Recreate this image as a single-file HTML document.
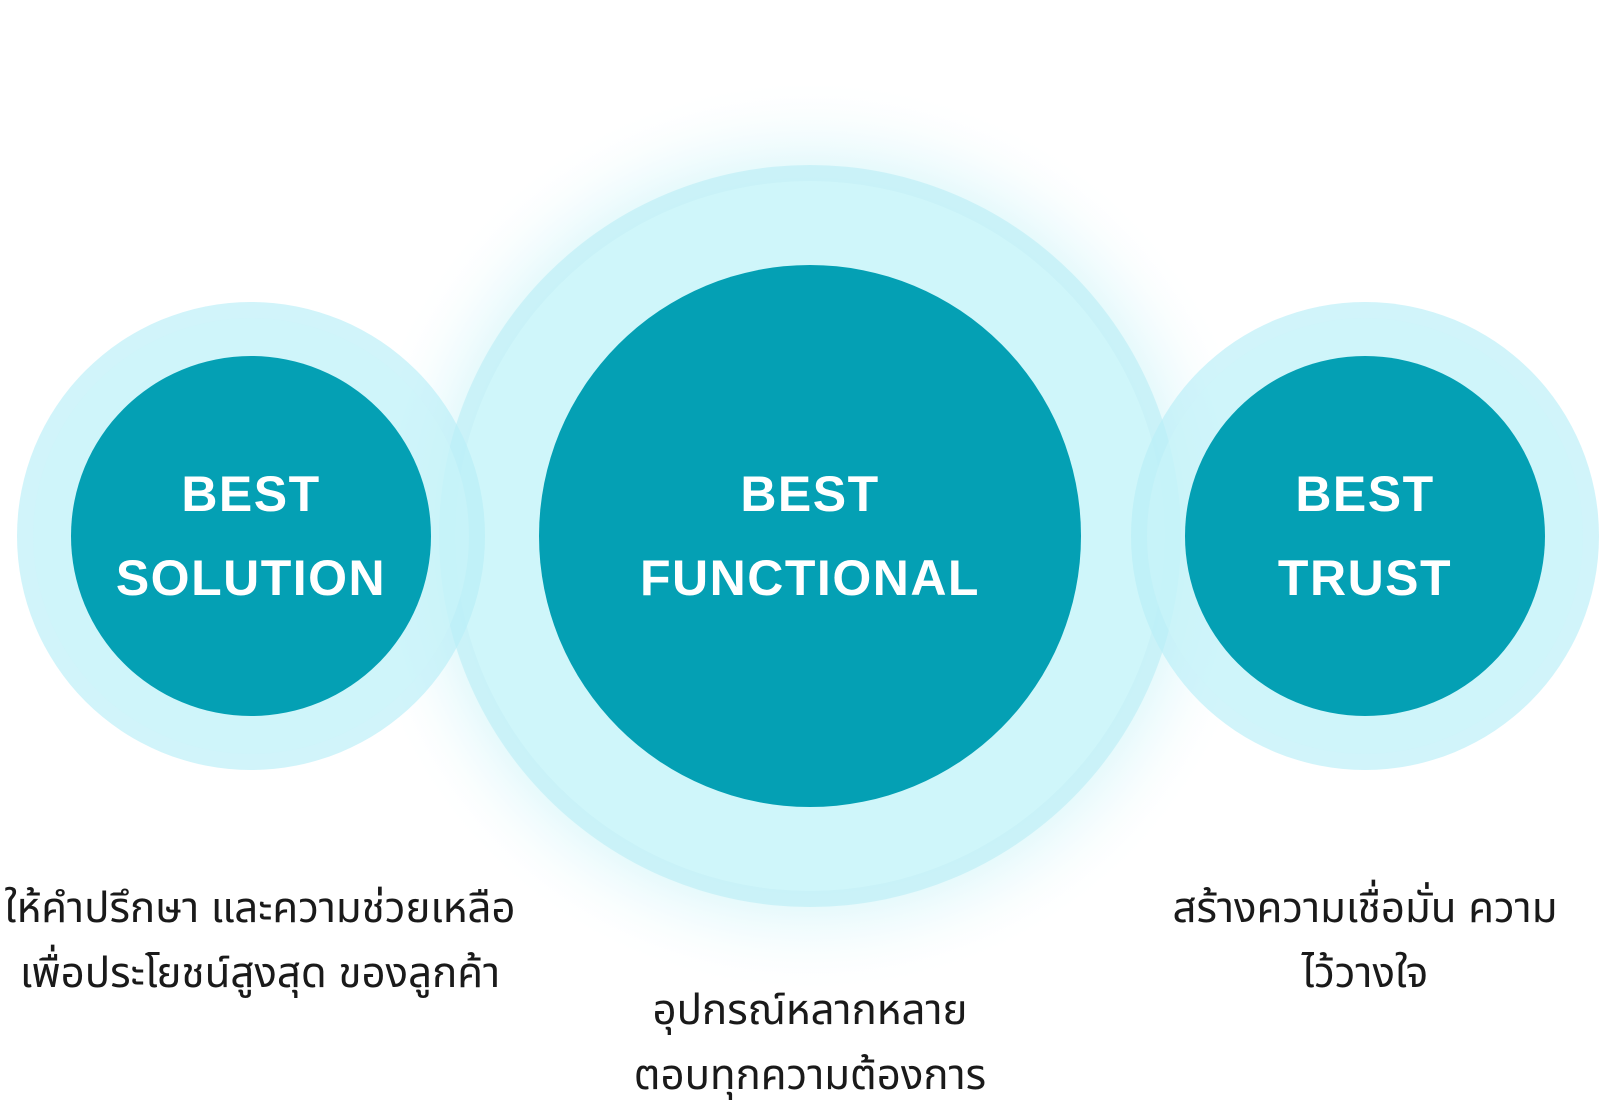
<!DOCTYPE html>
<html><head><meta charset="utf-8"><style>
html,body{margin:0;padding:0;background:#fff;}
body{width:1600px;height:1109px;position:relative;overflow:hidden;font-family:"Liberation Sans","Noto Sans CJK SC",sans-serif;}
svg{position:absolute;left:0;top:0;}
.t{position:absolute;text-align:center;color:#fff;font-weight:bold;font-size:50px;letter-spacing:1.5px;line-height:84px;}
.d{position:absolute;text-align:center;color:#1a1a1a;font-family:"Liberation Sans","Noto Sans Thai","Noto Sans CJK SC",sans-serif;font-size:42px;line-height:65px;white-space:nowrap;}
</style></head><body>
<svg width="1600" height="1109" viewBox="0 0 1600 1109">
<defs>
<radialGradient id="glow" cx="0.5" cy="0.5" r="0.5">
<stop offset="0.75" stop-color="#cdf4f9" stop-opacity="0.8"/>
<stop offset="0.88" stop-color="#e6f9fc" stop-opacity="0.4"/>
<stop offset="1" stop-color="#ffffff" stop-opacity="0"/>
</radialGradient>
</defs>
<circle cx="810" cy="536" r="460" fill="url(#glow)"/>
<circle cx="810" cy="536" r="371" fill="#c6f1f7" opacity="0.85"/>
<circle cx="810" cy="536" r="355" fill="#cff6fa" opacity="0.9"/>
<circle cx="251" cy="536" r="234" fill="#b9eef7" opacity="0.65"/>
<circle cx="251" cy="536" r="218" fill="#cdf5fa" opacity="0.5"/>
<circle cx="1365" cy="536" r="234" fill="#b9eef7" opacity="0.65"/>
<circle cx="1365" cy="536" r="218" fill="#cdf5fa" opacity="0.5"/>
<circle cx="810" cy="536" r="271" fill="#04a0b4"/>
<circle cx="251" cy="536" r="180" fill="#04a0b4"/>
<circle cx="1365" cy="536" r="180" fill="#04a0b4"/>
</svg>
<div class="t" style="left:51px;width:400px;top:452px;">BEST<br>SOLUTION</div>
<div class="t" style="left:560px;width:500px;top:452px;">BEST<br>FUNCTIONAL</div>
<div class="t" style="left:1165px;width:400px;top:452px;">BEST<br>TRUST</div>
<div class="d" style="left:0;width:520px;top:875px;">ให้คำปรึกษา และความช่วยเหลือ<br>เพื่อประโยชน์สูงสุด ของลูกค้า</div>
<div class="d" style="left:560px;width:500px;top:977px;">อุปกรณ์หลากหลาย<br>ตอบทุกความต้องการ</div>
<div class="d" style="left:1165px;width:400px;top:875px;">สร้างความเชื่อมั่น ความ<br>ไว้วางใจ</div>
</body></html>
